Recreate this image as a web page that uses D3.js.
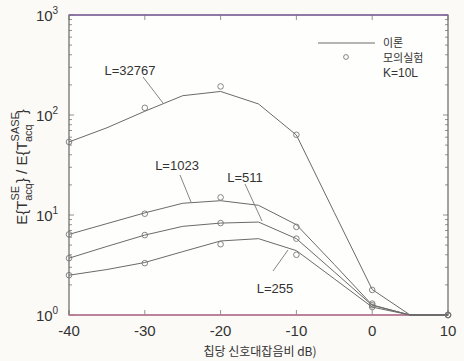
<!DOCTYPE html>
<html>
<head>
<meta charset="utf-8">
<script src="https://cdn.jsdelivr.net/npm/d3@7"></script>
<style>
  body { margin: 0; background: #fbfaf6; }
  svg { display: block; }
  text { font-family: "Liberation Sans", Arial, sans-serif; fill: #333; }
  .kr { font-family: "Noto Sans CJK KR", sans-serif; }
</style>
</head>
<body>
<div id="chart"></div>
<script>
// chip SNR (dB)
const snr = [-40, -35, -30, -25, -20, -15, -10, -5, 0, 5, 10];
const snrSim = [-40, -30, -20, -10, 0, 10];

// theory curves (이론)
const theory32767 = [53.8, 74.5, 109, 156, 172, 129, 63, 10.6, 1.8, 1, 1];
const theory1023 = [6.4, 8.2, 10.5, 13.1, 13.9, 12.5, 8.0, 3.2, 1.26, 1, 1];
const theory511 = [3.7, 4.85, 6.3, 7.7, 8.3, 8.5, 5.8, 2.7, 1.25, 1, 1];
const theory255 = [2.5, 2.85, 3.35, 4.3, 5.5, 5.8, 4.4, 2.3, 1.2, 1, 1];

// simulation points (모의실험)
const sim32767 = [53.8, 118, 193, 63.4, 1.78, 1];
const sim1023 = [6.4, 10.3, 15.0, 7.6, 1.3, 1];
const sim511 = [3.7, 6.3, 8.3, 5.8, 1.25, 1];
const sim255 = [2.5, 3.3, 5.1, 4.0, 1.2, 1];

const xTicks = [-40, -30, -20, -10, 0, 10];
const yTicks = [1, 10, 100, 1000];

const width = 464, height = 361;
const margin = {top: 15, right: 16, bottom: 46, left: 69};

const svg = d3.select("#chart").append("svg")
  .attr("width", width)
  .attr("height", height);

const x = d3.scaleLinear().domain([-40, 10]).range([margin.left, width - margin.right]);
const y = d3.scaleLog().domain([1, 1000]).range([height - margin.bottom, margin.top]);

const x0 = x.range()[0], x1 = x.range()[1];
const y0 = y.range()[0], y1 = y.range()[1];

// plot background
svg.append("rect")
  .attr("x", x0).attr("y", y1)
  .attr("width", x1 - x0).attr("height", y0 - y1)
  .attr("fill", "#fefefc");

// minor + major ticks on left and right (inward)
const minor = [];
for (let d = 1; d < 1000; d *= 10) {
  for (let k = 2; k <= 9; k++) minor.push(d * k);
}
const tickG = svg.append("g").attr("stroke", "#777").attr("stroke-width", 0.8);
minor.forEach(v => {
  tickG.append("line").attr("x1", x0).attr("x2", x0 + 3).attr("y1", y(v)).attr("y2", y(v));
  tickG.append("line").attr("x1", x1).attr("x2", x1 - 3).attr("y1", y(v)).attr("y2", y(v));
});
yTicks.forEach(v => {
  tickG.append("line").attr("x1", x0).attr("x2", x0 + 5).attr("y1", y(v)).attr("y2", y(v));
  tickG.append("line").attr("x1", x1).attr("x2", x1 - 5).attr("y1", y(v)).attr("y2", y(v));
});
xTicks.forEach(v => {
  tickG.append("line").attr("x1", x(v)).attr("x2", x(v)).attr("y1", y0).attr("y2", y0 - 5);
  tickG.append("line").attr("x1", x(v)).attr("x2", x(v)).attr("y1", y1).attr("y2", y1 + 5);
});

// frame
svg.append("rect")
  .attr("x", x0).attr("y", y1)
  .attr("width", x1 - x0).attr("height", y0 - y1)
  .attr("fill", "none")
  .attr("stroke", "#666")
  .attr("stroke-width", 1.2);
svg.append("line")
  .attr("x1", x0).attr("x2", x1).attr("y1", y1).attr("y2", y1)
  .attr("stroke", "#8a6aa8").attr("stroke-width", 1.4);
svg.append("line")
  .attr("x1", x0).attr("x2", x1).attr("y1", y0).attr("y2", y0)
  .attr("stroke", "#c07a9a").attr("stroke-width", 1.4);

// x tick labels
svg.append("g").selectAll("text")
  .data(xTicks).enter().append("text")
  .attr("x", d => x(d))
  .attr("y", y0 + 21)
  .attr("text-anchor", "middle")
  .attr("font-size", 15)
  .text(d => d);

// y tick labels 10^n
const yl = svg.append("g").selectAll("text")
  .data(yTicks).enter().append("text")
  .attr("x", x0 - 22)
  .attr("y", d => y(d) + 6)
  .attr("text-anchor", "middle")
  .attr("font-size", 15);
yl.append("tspan").text("10");
yl.append("tspan")
  .attr("dy", -7)
  .attr("font-size", 10)
  .text(d => Math.round(Math.log10(d)));

// y axis label
const ylab = svg.append("text")
  .attr("transform", "translate(27," + ((y0 + y1) / 2 + 2) + ") rotate(-90)")
  .attr("text-anchor", "middle")
  .attr("font-size", 15);
ylab.append("tspan").text("E{T");
ylab.append("tspan").attr("font-size", 11).attr("dy", -8).text("SE");
ylab.append("tspan").attr("font-size", 11).attr("dx", -15).attr("dy", 13).text("acq");
ylab.append("tspan").attr("dy", -5).text("} / E{T");
ylab.append("tspan").attr("font-size", 11).attr("dy", -8).text("SASE");
ylab.append("tspan").attr("font-size", 11).attr("dx", -30).attr("dy", 13).text("acq");
ylab.append("tspan").attr("dx", 10).attr("dy", -5).text("}");

// x axis label
svg.append("text")
  .attr("class", "kr")
  .attr("x", 260)
  .attr("y", 356)
  .attr("text-anchor", "middle")
  .attr("font-size", 12)
  .attr("fill", "#444")
  .text("칩당 신호대잡음비  dB)");

// theory lines
const line = d3.line()
  .x((d, i) => x(snr[i]))
  .y(d => y(d));

const theory = [theory32767, theory1023, theory511, theory255];
svg.append("g").selectAll("path")
  .data(theory).enter().append("path")
  .attr("d", line)
  .attr("fill", "none")
  .attr("stroke", "#6a6a6a")
  .attr("stroke-width", 1);

// simulation circles
const sims = [sim32767, sim1023, sim511, sim255];
sims.forEach(s => {
  svg.append("g").selectAll("circle")
    .data(s).enter().append("circle")
    .attr("cx", (d, i) => x(snrSim[i]))
    .attr("cy", d => y(d))
    .attr("r", 2.8)
    .attr("fill", "none")
    .attr("stroke", "#777")
    .attr("stroke-width", 0.9);
});

// curve labels with leader lines
const labels = [
  {t: "L=32767", tx: 130, ty: 75, lx1: 143, ly1: 77, lx2: 163, ly2: 103},
  {t: "L=1023", tx: 177, ty: 170, lx1: 180, ly1: 175, lx2: 191, ly2: 202},
  {t: "L=511", tx: 245, ty: 182, lx1: 245, ly1: 184, lx2: 262, ly2: 221},
  {t: "L=255", tx: 275, ty: 293, lx1: 273, ly1: 271, lx2: 288, ly2: 250}
];
labels.forEach(l => {
  svg.append("line")
    .attr("x1", l.lx1).attr("y1", l.ly1)
    .attr("x2", l.lx2).attr("y2", l.ly2)
    .attr("stroke", "#777").attr("stroke-width", 0.9);
  svg.append("text")
    .attr("x", l.tx).attr("y", l.ty)
    .attr("text-anchor", "middle")
    .attr("font-size", 13)
    .attr("fill", "#444")
    .text(l.t);
});

// legend
svg.append("line")
  .attr("x1", 318).attr("x2", 375).attr("y1", 43).attr("y2", 43)
  .attr("stroke", "#6a6a6a").attr("stroke-width", 1);
svg.append("circle")
  .attr("cx", 346).attr("cy", 57).attr("r", 2.4)
  .attr("fill", "none").attr("stroke", "#777").attr("stroke-width", 0.9);
svg.append("text").attr("class", "kr")
  .attr("x", 383).attr("y", 47).attr("font-size", 11).attr("fill", "#555").text("이론");
svg.append("text").attr("class", "kr")
  .attr("x", 383).attr("y", 62).attr("font-size", 11).attr("fill", "#555").text("모의실험");
svg.append("text")
  .attr("x", 383).attr("y", 77).attr("font-size", 12).attr("fill", "#555").text("K=10L");
</script>
</body>
</html>
